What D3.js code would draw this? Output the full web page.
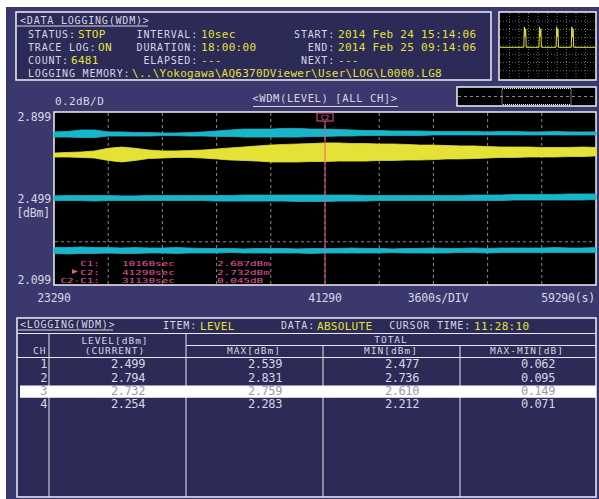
<!DOCTYPE html>
<html>
<head>
<meta charset="utf-8">
<script src="https://cdn.jsdelivr.net/npm/d3@7"></script>
<style>
  body { margin: 0; background: #fff; }
  svg { display: block; }
  text { font-family: "DejaVu Sans Mono", monospace; }
</style>
</head>
<body>
<div id="chart"></div>
<script>
// ——— DATA —————————————————————————————————————————————————————————
const times = [23290, 24190, 25090, 25990, 26890, 27790, 28690, 29590, 30490, 31390,
  32290, 33190, 34090, 34990, 35890, 36790, 37690, 38590, 39490, 40390,
  41290, 42190, 43090, 43990, 44890, 45790, 46690, 47590, 48490, 49390,
  50290, 51190, 52090, 52990, 53890, 54790, 55690, 56590, 57490, 58390, 59290];

// upper / lower edge of each noisy trace (dBm)
const ch1Hi = [2.511, 2.513, 2.513, 2.513, 2.513, 2.511, 2.511, 2.513, 2.513, 2.513, 2.513, 2.513, 2.513, 2.513, 2.515, 2.515, 2.515, 2.515, 2.515, 2.515, 2.515, 2.515, 2.515, 2.513, 2.513, 2.513, 2.513, 2.513, 2.513, 2.513, 2.513, 2.515, 2.515, 2.515, 2.518, 2.518, 2.518, 2.518, 2.520, 2.520, 2.520];
const ch1Lo = [2.490, 2.490, 2.490, 2.487, 2.490, 2.490, 2.490, 2.490, 2.490, 2.490, 2.490, 2.490, 2.487, 2.487, 2.487, 2.487, 2.487, 2.487, 2.485, 2.485, 2.485, 2.487, 2.487, 2.487, 2.490, 2.490, 2.490, 2.490, 2.490, 2.490, 2.490, 2.490, 2.490, 2.490, 2.492, 2.492, 2.492, 2.492, 2.492, 2.492, 2.494];
const ch2Hi = [2.807, 2.809, 2.816, 2.816, 2.807, 2.807, 2.804, 2.804, 2.802, 2.802, 2.804, 2.807, 2.811, 2.816, 2.820, 2.820, 2.820, 2.823, 2.823, 2.820, 2.820, 2.818, 2.816, 2.813, 2.813, 2.811, 2.811, 2.811, 2.809, 2.809, 2.809, 2.809, 2.807, 2.809, 2.809, 2.807, 2.807, 2.809, 2.807, 2.807, 2.807];
const ch2Lo = [2.783, 2.783, 2.781, 2.781, 2.788, 2.788, 2.788, 2.788, 2.790, 2.790, 2.788, 2.788, 2.786, 2.786, 2.783, 2.783, 2.783, 2.783, 2.783, 2.786, 2.786, 2.788, 2.788, 2.790, 2.790, 2.790, 2.790, 2.790, 2.793, 2.793, 2.793, 2.793, 2.793, 2.793, 2.793, 2.793, 2.793, 2.793, 2.793, 2.793, 2.793];
const ch3Hi = [2.709, 2.712, 2.714, 2.719, 2.731, 2.737, 2.731, 2.723, 2.719, 2.719, 2.721, 2.723, 2.728, 2.733, 2.737, 2.742, 2.746, 2.749, 2.751, 2.753, 2.756, 2.756, 2.753, 2.753, 2.751, 2.751, 2.749, 2.746, 2.746, 2.744, 2.742, 2.742, 2.739, 2.737, 2.737, 2.737, 2.735, 2.735, 2.735, 2.737, 2.735];
const ch3Lo = [2.691, 2.691, 2.689, 2.686, 2.675, 2.668, 2.675, 2.684, 2.686, 2.689, 2.689, 2.686, 2.682, 2.677, 2.675, 2.672, 2.668, 2.668, 2.668, 2.670, 2.670, 2.672, 2.672, 2.672, 2.675, 2.675, 2.677, 2.677, 2.679, 2.682, 2.682, 2.684, 2.686, 2.689, 2.689, 2.691, 2.691, 2.691, 2.693, 2.693, 2.696];
const ch4Hi = [2.272, 2.272, 2.275, 2.272, 2.272, 2.270, 2.272, 2.270, 2.270, 2.272, 2.270, 2.268, 2.268, 2.268, 2.266, 2.268, 2.268, 2.268, 2.266, 2.268, 2.268, 2.268, 2.270, 2.268, 2.268, 2.266, 2.268, 2.268, 2.270, 2.268, 2.268, 2.270, 2.268, 2.270, 2.270, 2.270, 2.270, 2.272, 2.270, 2.270, 2.272];
const ch4Lo = [2.245, 2.242, 2.245, 2.245, 2.247, 2.245, 2.245, 2.247, 2.247, 2.245, 2.247, 2.247, 2.247, 2.249, 2.247, 2.247, 2.247, 2.247, 2.247, 2.245, 2.247, 2.247, 2.247, 2.247, 2.247, 2.249, 2.247, 2.247, 2.247, 2.247, 2.249, 2.249, 2.247, 2.249, 2.249, 2.249, 2.249, 2.249, 2.249, 2.249, 2.249];

const xTicks = [23290, 41290, 59290];
const xTickLabels = ["23290", "41290", "59290(s)"];
const yTicks = [2.899, 2.499, 2.099];
const yGrid = [2.699, 2.499, 2.299];
const cursorC2 = 41290;

// cursor readout
const cursorNames = ["C1:", "C2:", "C2-C1:"];
const cursorTimes = ["10160sec", "41290sec", "31130sec"];
const cursorLevels = ["2.687dBm", "2.732dBm", "0.045dB"];

// table
const chNames = ["1", "2", "3", "4"];
const levelCur = ["2.499", "2.794", "2.732", "2.254"];
const levelMax = ["2.539", "2.831", "2.759", "2.283"];
const levelMin = ["2.477", "2.736", "2.610", "2.212"];
const levelDiff = ["0.062", "0.095", "0.149", "0.071"];
const selectedRow = 2;

// thumbnail spectrum (top right)
const miniX = [0, 25, 25.6, 26.3, 27, 27.6, 41, 41.6, 42.3, 43, 43.6, 59, 59.6, 60.3, 61, 61.6, 75, 75.6, 76.3, 77, 77.6, 100];
const miniY = [4.8, 4.8, 7.9, 6.4, 7.6, 4.8, 4.8, 7.9, 6.4, 7.6, 4.8, 4.8, 7.9, 6.4, 7.6, 4.8, 4.8, 7.9, 6.4, 7.6, 4.8, 4.8];

// ——— COLOURS ——————————————————————————————————————————————————————
const bgOuter = "#3b386e";
const bgInner = "#2c2a56";
const fgText = "#d6d6e4";
const yellow = "#e4e236";
const cyan = "#19b6c9";
const pink = "#e0589c";
const gridCol = "#8a8a8a";

const svg = d3.select("#chart").append("svg")
  .attr("width", 599).attr("height", 499);

svg.append("rect").attr("x", 6).attr("y", 7).attr("width", 593).attr("height", 492).attr("fill", bgOuter);

function txt(g, x, y, s, o = {}) {
  return g.append("text")
    .attr("x", x).attr("y", y)
    .attr("fill", o.fill || fgText)
    .attr("font-size", o.size || 10)
    .attr("letter-spacing", o.ls != null ? o.ls : 0.8)
    .attr("text-anchor", o.anchor || "start")
    .text(s);
}
const lab = { size: 10, ls: 0.8 };
const val = { size: 11, ls: 0.3, fill: yellow };

// ——— HEADER BOX ———————————————————————————————————————————————————
const head = svg.append("g");
head.append("rect").attr("x", 16).attr("y", 12).attr("width", 475).attr("height", 68)
  .attr("fill", bgInner).attr("stroke", "#f0f0f8").attr("stroke-width", 1.5);
txt(head, 20, 24, "<DATA LOGGING(WDM)>", lab);
head.append("line").attr("x1", 17).attr("x2", 148).attr("y1", 26).attr("y2", 26).attr("stroke", fgText);

txt(head, 28, 38, "STATUS:", lab);       txt(head, 78, 38, "STOP", val);
txt(head, 28, 51, "TRACE LOG:", lab);    txt(head, 98, 51, "ON", val);
txt(head, 28, 64, "COUNT:", lab);        txt(head, 71, 64, "6481", val);
txt(head, 28, 77, "LOGGING MEMORY:", lab);
txt(head, 132, 77, "\\..\\Yokogawa\\AQ6370DViewer\\User\\LOG\\L0000.LG8", val)
  .attr("textLength", 310).attr("lengthAdjust", "spacingAndGlyphs");

txt(head, 198, 38, "INTERVAL:", { ...lab, anchor: "end" }); txt(head, 201, 38, "10sec", val);
txt(head, 198, 51, "DURATION:", { ...lab, anchor: "end" }); txt(head, 201, 51, "18:00:00", val);
txt(head, 198, 64, "ELAPSED:", { ...lab, anchor: "end" });  txt(head, 201, 64, "---", val);

txt(head, 335, 38, "START:", { ...lab, anchor: "end" }); txt(head, 338, 38, "2014 Feb 24 15:14:06", val);
txt(head, 335, 51, "END:", { ...lab, anchor: "end" });   txt(head, 338, 51, "2014 Feb 25 09:14:06", val);
txt(head, 335, 64, "NEXT:", { ...lab, anchor: "end" });  txt(head, 338, 64, "---", val);

// ——— THUMBNAIL ————————————————————————————————————————————————————
const thumb = svg.append("g");
thumb.append("rect").attr("x", 499).attr("y", 12).attr("width", 97).attr("height", 68)
  .attr("fill", "#000").attr("stroke", "#f0f0f8").attr("stroke-width", 1.5);
const mx = d3.scaleLinear().domain([0, 100]).range([500, 595]);
const my = d3.scaleLinear().domain([0, 10]).range([79, 13]);
d3.range(1, 10).forEach(i => {
  thumb.append("line").attr("x1", mx(i * 10)).attr("x2", mx(i * 10)).attr("y1", 13).attr("y2", 79)
    .attr("stroke", "#6a6a6a").attr("stroke-dasharray", "1,2");
});
d3.range(1, 8).forEach(i => {
  thumb.append("line").attr("x1", 500).attr("x2", 595).attr("y1", my(i * 10 / 8)).attr("y2", my(i * 10 / 8))
    .attr("stroke", "#6a6a6a").attr("stroke-dasharray", "1,2");
});
thumb.append("path")
  .attr("d", d3.line().x((d, i) => mx(miniX[i])).y(d => my(d))(miniY))
  .attr("fill", "none").attr("stroke", yellow).attr("stroke-width", 1);

// ——— OVERVIEW STRIP ———————————————————————————————————————————————
const ov = svg.append("g");
ov.append("rect").attr("x", 457).attr("y", 87).attr("width", 139).attr("height", 19)
  .attr("fill", "#000").attr("stroke", "#f0f0f8").attr("stroke-width", 1.5);
ov.append("line").attr("x1", 458).attr("x2", 595).attr("y1", 96.5).attr("y2", 96.5)
  .attr("stroke", gridCol).attr("stroke-dasharray", "3,3");
ov.append("rect").attr("x", 502).attr("y", 88.5).attr("width", 69).attr("height", 16)
  .attr("fill", "none").attr("stroke", "#e8e8e8").attr("stroke-dasharray", "1,1");

// ——— MAIN PLOT ————————————————————————————————————————————————————
const plotL = 54, plotR = 596, plotT = 112, plotB = 285;
const xScale = d3.scaleLinear().domain([23290, 59290]).range([plotL, plotR]);
const yScale = d3.scaleLinear().domain([2.099, 2.899]).range([plotB, plotT]);

const plot = svg.append("g");
txt(plot, 55, 105, "0.2dB/D", { size: 11, ls: 0.4 });
txt(plot, 325, 102, "<WDM(LEVEL) [ALL CH]>", { size: 10.5, ls: 0.6, anchor: "middle" });
plot.append("line").attr("x1", 253).attr("x2", 398).attr("y1", 106.5).attr("y2", 106.5).attr("stroke", fgText);

plot.append("rect").attr("x", plotL).attr("y", plotT).attr("width", plotR - plotL).attr("height", plotB - plotT)
  .attr("fill", "#000").attr("stroke", "#f0f0f8").attr("stroke-width", 1.5);

// grid
plot.selectAll(".vgrid").data(d3.range(23290 + 3600, 59290, 3600)).enter().append("line")
  .attr("x1", d => xScale(d)).attr("x2", d => xScale(d))
  .attr("y1", plotT + 1).attr("y2", plotB - 1)
  .attr("stroke", gridCol).attr("stroke-dasharray", "3,3");
plot.selectAll(".hgrid").data(yGrid).enter().append("line")
  .attr("x1", plotL + 1).attr("x2", plotR - 1)
  .attr("y1", d => yScale(d)).attr("y2", d => yScale(d))
  .attr("stroke", gridCol).attr("stroke-dasharray", "3,3");

// traces
const traces = [
  { hi: ch2Hi, lo: ch2Lo, color: cyan },
  { hi: ch3Hi, lo: ch3Lo, color: yellow },
  { hi: ch1Hi, lo: ch1Lo, color: cyan },
  { hi: ch4Hi, lo: ch4Lo, color: cyan }
];
const band = d3.area()
  .x((d, i) => xScale(times[i]))
  .y0(d => yScale(d[0]))
  .y1(d => yScale(d[1]));
plot.selectAll(".trace").data(traces).enter().append("path")
  .attr("d", t => band(t.hi.map((h, i) => [t.lo[i], h])))
  .attr("fill", t => t.color).attr("stroke", t => t.color).attr("stroke-width", 0.8);

// cursor C2
plot.append("line").attr("x1", xScale(cursorC2)).attr("x2", xScale(cursorC2))
  .attr("y1", plotT + 1).attr("y2", plotB).attr("stroke", pink).attr("stroke-width", 1);
plot.append("rect").attr("x", xScale(cursorC2) - 8).attr("y", plotT + 1).attr("width", 16).attr("height", 8)
  .attr("fill", "#000").attr("stroke", pink).attr("stroke-width", 1);
txt(plot, xScale(cursorC2), plotT + 8, "C2", { size: 7, ls: 0, fill: pink, anchor: "middle" });

// cursor readout (wide, short glyphs like the instrument font)
const cur = { size: 7, ls: 0, fill: pink };
const wide = (sel, s) => sel.attr("textLength", s.length * 6.6).attr("lengthAdjust", "spacingAndGlyphs");
cursorNames.forEach((s, i) => {
  const y = 266 + i * 8.5;
  wide(txt(plot, 100, y, s, { ...cur, anchor: "end" }), s);
  wide(txt(plot, 122, y, cursorTimes[i], cur), cursorTimes[i]);
  wide(txt(plot, 217, y, cursorLevels[i], cur), cursorLevels[i]);
});
plot.append("path").attr("d", "M72,269 L78,271.5 L72,274 Z").attr("fill", pink);

// axis labels
const ax = { size: 11.5, ls: -0.2 };
yTicks.forEach(v => txt(plot, 51, yScale(v) + (v === 2.899 ? 9 : v === 2.099 ? -1 : 4), v.toFixed(3), { ...ax, anchor: "end" }));
txt(plot, 50, 217, "[dBm]", { ...ax, anchor: "end" });
xTicks.forEach((t, i) => {
  txt(plot, i === 2 ? 595 : xScale(t), 302, xTickLabels[i], { ...ax, anchor: i === 2 ? "end" : "middle" });
});
txt(plot, 438, 302, "3600s/DIV", { ...ax, anchor: "middle" });

// ——— TABLE ————————————————————————————————————————————————————————
const tb = svg.append("g");
const tL = 17, tR = 596, tT = 318, tB = 497;
const colX = [tL, 49, 186, 323, 460, tR];
tb.append("rect").attr("x", tL).attr("y", tT).attr("width", tR - tL).attr("height", tB - tT)
  .attr("fill", bgInner).attr("stroke", "#f0f0f8").attr("stroke-width", 1.5);
txt(tb, 20, 328, "<LOGGING(WDM)>", lab);
tb.append("line").attr("x1", 18).attr("x2", 113).attr("y1", 330).attr("y2", 330).attr("stroke", fgText);
txt(tb, 197, 329, "ITEM:", { ...lab, anchor: "end" });   txt(tb, 200, 330, "LEVEL", val);
txt(tb, 315, 329, "DATA:", { ...lab, anchor: "end" });   txt(tb, 317, 330, "ABSOLUTE", val);
txt(tb, 471, 329, "CURSOR TIME:", { ...lab, anchor: "end" }); txt(tb, 474, 330, "11:28:10", val);

const hl = (x1, x2, y) => tb.append("line").attr("x1", x1).attr("x2", x2).attr("y1", y).attr("y2", y).attr("stroke", "#e8e8f0");
const vl = (x, y1, y2) => tb.append("line").attr("x1", x).attr("x2", x).attr("y1", y1).attr("y2", y2).attr("stroke", "#e8e8f0");
hl(tL, tR, 333.5);
hl(colX[2], tR, 345.5);
hl(tL, tR, 357.5);
vl(colX[1], 333.5, tB);
vl(colX[2], 333.5, tB);
vl(colX[3], 345.5, tB);
vl(colX[4], 345.5, tB);

const hd = { size: 9.5, ls: 1 };
txt(tb, 33, 354, "CH", hd);
txt(tb, 115, 344, "LEVEL[dBm]", { ...hd, anchor: "middle" });
txt(tb, 115, 354, "(CURRENT)", { ...hd, anchor: "middle" });
txt(tb, 391, 343, "TOTAL", { ...hd, anchor: "middle" });
txt(tb, 254, 354, "MAX[dBm]", { ...hd, anchor: "middle" });
txt(tb, 391, 354, "MIN[dBm]", { ...hd, anchor: "middle" });
txt(tb, 527, 354, "MAX-MIN[dB]", { ...hd, anchor: "middle" });

const rowY = d3.scaleBand().domain(chNames).range([358, 411]);
tb.append("rect").attr("x", 20).attr("y", rowY(chNames[selectedRow]) + 1).attr("width", tR - 20).attr("height", rowY.bandwidth() - 1)
  .attr("fill", "#fff");
const num = { size: 12, ls: -0.4, anchor: "end" };
const cols = [levelCur, levelMax, levelMin, levelDiff];
chNames.forEach((c, i) => {
  const y = rowY(c) + rowY.bandwidth() - 3;
  const fill = i === selectedRow ? "#9a9aae" : fgText;
  txt(tb, 47, y, c, { ...num, fill });
  cols.forEach((arr, j) => txt(tb, colX[j + 2] - 41, y, arr[i], { ...num, fill }));
});
</script>
</body>
</html>
